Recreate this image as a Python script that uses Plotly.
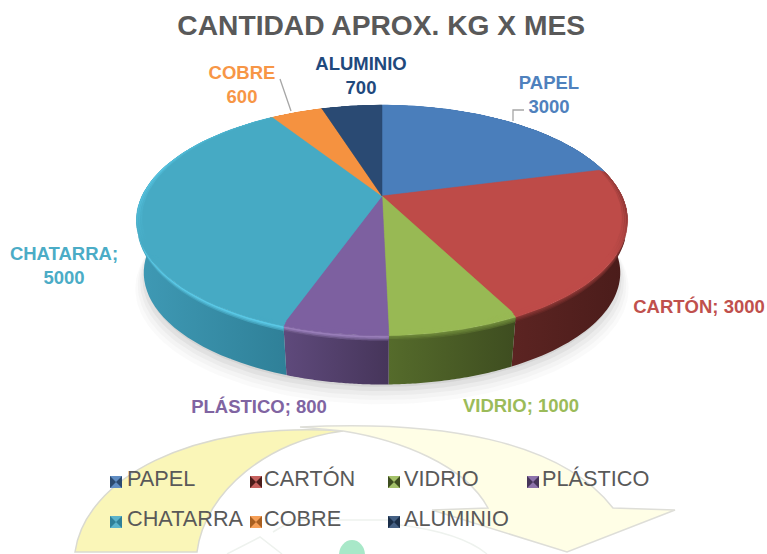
import numpy as np
import plotly.graph_objects as go

categories = ["PAPEL", "CARTÓN", "VIDRIO", "PLÁSTICO", "CHATARRA", "COBRE", "ALUMINIO"]
values = [3000, 3000, 1000, 800, 5000, 600, 700]
top_colors = ["#4A7EBB", "#BE4B48", "#98B954", "#7D60A0", "#46AAC4", "#F59240", "#2A4A73"]
wall_left = ["#2B4A70", "#5C2422", "#556B2B", "#5F4A7C", "#3F9AB5", "#A85F20", "#1A2E48"]
wall_right = ["#2B4A70", "#4A1C1A", "#3E4D20", "#46355A", "#2F8098", "#A85F20", "#1A2E48"]
rim_colors = ["#4A7EBB", "#8A3634", "#6E8A3A", "#A488C6", "#60D2F0", "#F59240", "#2A4A73"]
label_texts = ["PAPEL<br>3000", "CARTÓN; 3000", "VIDRIO; 1000", "PLÁSTICO; 800",
               "CHATARRA;<br>5000", "COBRE<br>600", "ALUMINIO<br>700"]
label_x = [549, 699, 521, 259, 64, 242, 361]
label_y = [96, 308, 407, 408, 267, 86, 77]
label_colors = ["#4F81BD", "#C0504D", "#9BBB59", "#8064A2", "#4BACC6", "#F79646", "#1F497D"]
title_text = "CANTIDAD APROX. KG X MES"

CX, CY, A, B, K = 382, 196, 240, 110, 0.2125
S, H = 0.97, 53


def project(theta, scale=1.0, drop=0.0):
    u, v = np.sin(theta), np.cos(theta)
    w = 1 + K * v
    return CX + scale * A * u / w, CY + drop - scale * B * v / w


def hexmix(c1, c2, f):
    a = [int(c1[i:i + 2], 16) for i in (1, 3, 5)]
    b = [int(c2[i:i + 2], 16) for i in (1, 3, 5)]
    return "#%02x%02x%02x" % tuple(round(p + (q - p) * f) for p, q in zip(a, b))


def swept(th, scale, drop):
    """Quads swept between the top outline and a lower outline, so the silhouette stays tangent."""
    tx, ty = project(th)
    bx, by = project(th, scale, drop)
    xs, ys = [], []
    for j in range(len(th) - 1):
        xs += [tx[j], tx[j + 1], bx[j + 1], bx[j], tx[j], None]
        ys += [ty[j], ty[j + 1], by[j + 1], by[j], ty[j], None]
    return xs, ys


fig = go.Figure()

# soft floor shadow
t = np.linspace(0, 2 * np.pi, 181)
for grow, drop, op in zip([1.035, 1.025, 1.015, 1.005, 0.995], [H + 15, H + 12, H + 9, H + 6, H + 3],
                          [0.03, 0.04, 0.05, 0.07, 0.09]):
    sx, sy = project(t, S * grow, drop)
    fig.add_trace(go.Scatter(x=sx, y=sy, mode="lines", line=dict(width=0), fill="toself",
                             fillcolor=f"rgba(90,90,90,{op})", hoverinfo="skip", showlegend=False))

angles = np.cumsum([0] + values) / sum(values) * 2 * np.pi
spans = [np.linspace(angles[i], angles[i + 1], 50) for i in range(len(values))]

# side walls, then the soft transition up to the rim
for i, th in enumerate(spans):
    xs, ys = swept(th, S, H)
    fig.add_trace(go.Scatter(
        x=xs, y=ys, mode="lines", line=dict(width=0), fill="toself",
        fillgradient=dict(type="horizontal", colorscale=[[0, wall_left[i]], [1, wall_right[i]]]),
        hoverinfo="skip", showlegend=False))
    wall_mid = hexmix(wall_left[i], wall_right[i], 0.5)
    for frac, f in [(0.1, 0.3), (0.07, 0.6), (0.04, 0.85)]:
        xs, ys = swept(th, 1 - (1 - S) * frac, H * frac)
        fig.add_trace(go.Scatter(x=xs, y=ys, mode="lines", line=dict(width=0), fill="toself",
                                 fillcolor=hexmix(wall_mid, rim_colors[i], f),
                                 hoverinfo="skip", showlegend=False))

# top faces: outer bevel rings fading into the flat face
for scale, drop, f in [(1.0, 0.0, 0.0), (0.992, -0.7, 0.3), (0.984, -1.4, 0.6), (0.976, -2.1, 1.0)]:
    for i, th in enumerate(spans):
        tx, ty = project(th, scale, drop)
        mid = hexmix(rim_colors[i], top_colors[i], f)
        fig.add_trace(go.Scatter(
            x=np.r_[CX, tx, CX], y=np.r_[CY, ty, CY], mode="lines",
            line=dict(width=0.5, color=mid if f == 1.0 else top_colors[i]), fill="toself",
            fillgradient=dict(type="vertical", colorscale=[[0, top_colors[i]], [0.4, top_colors[i]],
                                                           [0.75, mid], [1, mid]]),
            name=categories[i], showlegend=False,
            hovertemplate=f"{categories[i]}: {values[i]}<extra></extra>"))

# data labels
fig.add_trace(go.Scatter(x=label_x, y=label_y, mode="text", text=label_texts,
                         textfont=dict(family="Liberation Sans", size=18.5, color=label_colors, weight="bold"),
                         hoverinfo="skip", showlegend=False))

# leader lines
fig.add_trace(go.Scatter(x=[280, 291], y=[79, 111], mode="lines", line=dict(color="#A6A6A6", width=1.3),
                         hoverinfo="skip", showlegend=False))
fig.add_trace(go.Scatter(x=[513, 513, 524], y=[121, 110, 110], mode="lines", line=dict(color="#A6A6A6", width=1.3),
                         hoverinfo="skip", showlegend=False))

# legend
legend_x = [116, 256, 394, 533, 116, 256, 394]
legend_y = [482, 482, 482, 482, 522, 522, 522]
text_x = [127, 264, 404, 542, 127, 264, 404]
text_y = [481, 481, 481, 481, 521, 521, 521]
for i, c in enumerate(categories):
    fig.add_trace(go.Scatter(x=[legend_x[i]], y=[legend_y[i]], mode="markers",
                             marker=dict(symbol="square", size=12, color=hexmix(top_colors[i], "#FFFFFF", 0.12)),
                             hoverinfo="skip", showlegend=False))
    fig.add_trace(go.Scatter(x=[legend_x[i]], y=[legend_y[i]], mode="markers",
                             marker=dict(symbol="bowtie", size=12, color=wall_right[i]),
                             hoverinfo="skip", showlegend=False))
fig.add_trace(go.Scatter(x=text_x, y=text_y, mode="text", text=categories, textposition="middle right",
                         textfont=dict(family="Liberation Sans", size=21.7, color="#595959"),
                         hoverinfo="skip", showlegend=False))

# watermark behind the chart
shapes = [
    dict(type="path", layer="below", line=dict(color="#EEF2EE", width=1.5),
         path="M 227 554 L 260 537 L 282 554 M 273 532 L 293 520 L 400 520 M 400 525 C 440 530 470 540 487 554"),
    dict(type="path", layer="below", line=dict(color="#DADAD0", width=1.5), fillcolor="#FAF6B8",
         path="M 75 552 C 85 480 190 420 343 431 C 270 440 205 490 197 552 Z"),
    dict(type="path", layer="below", line=dict(color="#DEDED8", width=1.5), fillcolor="#FFFEE6",
         path="M 300 427 C 440 420 560 440 613 508 L 675 510 L 567 552 L 432 510 L 488 508 "
              "C 465 465 400 440 343 431 Z"),
    dict(type="circle", layer="below", line=dict(width=0), fillcolor="#A8E8C8",
         x0=339, x1=365, y0=540, y1=570),
]

fig.update_layout(
    width=767, height=554, margin=dict(l=0, r=0, t=0, b=0), autosize=False,
    paper_bgcolor="white", plot_bgcolor="rgba(0,0,0,0)", showlegend=False, shapes=shapes,
    title=dict(text=title_text, x=0.497, xanchor="center", y=0.955, yanchor="middle",
               font=dict(family="Liberation Sans", size=28.2, color="#595959", weight="bold")),
    xaxis=dict(range=[0, 767], visible=False, fixedrange=True),
    yaxis=dict(range=[554, 0], visible=False, fixedrange=True),
)
fig.write_html("out.html", config={"displayModeBar": False},
               post_script="document.body.style.margin='0';")
